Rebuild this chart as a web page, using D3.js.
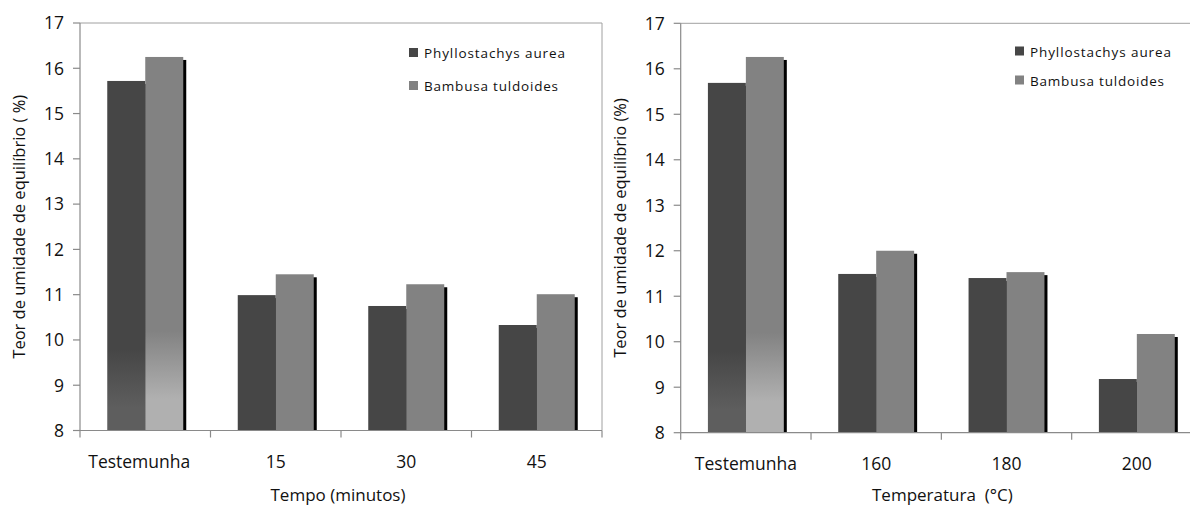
<!DOCTYPE html>
<html>
<head>
<meta charset="utf-8">
<script src="https://cdn.jsdelivr.net/npm/d3@7"></script>
<style>
  html, body { margin: 0; padding: 0; background: #fff; }
  svg { display: block; }
  text { font-family: "Open Sans", sans-serif; fill: #111; white-space: pre; }
</style>
</head>
<body>
<svg id="chart" width="1190" height="506"></svg>
<script>
// ---- data ----
const seriesNames = ["Phyllostachys aurea", "Bambusa tuldoides"];
const yTicks = [8, 9, 10, 11, 12, 13, 14, 15, 16, 17];

const categoriesTempo = ["Testemunha", "15", "30", "45"];
const phylloTempo = [15.72, 10.99, 10.75, 10.33];
const bambusaTempo = [16.25, 11.45, 11.23, 11.01];

const categoriesTemp = ["Testemunha", "160", "180", "200"];
const phylloTemp = [15.69, 11.49, 11.40, 9.18];
const bambusaTemp = [16.26, 12.00, 11.53, 10.17];

const xTitleTempo = "Tempo (minutos)";
const xTitleTemp = "Temperatura  (°C)";
const yTitleTempo = "Teor de umidade de equilíbrio ( %)";
const yTitleTemp = "Teor de umidade de equilíbrio (%)";

// ---- styles ----
const colors = ["#464646", "#828282"];
const gradColors = [["#464646", "#5e5e5e"], ["#828282", "#b0b0b0"]];
const axisColor = "#8a8a8a";

const svg = d3.select("#chart");
const defs = svg.append("defs");

function drawPanel(cfg) {
  const g = svg.append("g");
  const x = d3.scaleBand().domain(cfg.categories).range([cfg.left, cfg.right])
    .paddingInner(0.4176).paddingOuter(0.2088);
  const xs = d3.scaleBand().domain([0, 1]).range([0, x.bandwidth()]);
  const y = d3.scaleLinear().domain([8, 17]).range([cfg.bottom, cfg.top]);
  const step = x.step();
  const catStart = c => cfg.left + cfg.categories.indexOf(c) * step;

  // gradients (control bars)
  [0, 1].forEach(s => {
    const lg = defs.append("linearGradient")
      .attr("id", cfg.id + "grad" + s)
      .attr("gradientUnits", "userSpaceOnUse")
      .attr("x1", 0).attr("x2", 0)
      .attr("y1", y(s === 0 ? 9.8 : 10.2)).attr("y2", y(s === 0 ? 8.5 : 8.7));
    lg.append("stop").attr("offset", 0).attr("stop-color", gradColors[s][0]);
    lg.append("stop").attr("offset", 1).attr("stop-color", gradColors[s][1]);
  });

  // plot area border (top/right)
  g.append("path")
    .attr("d", `M${cfg.left},${cfg.top}H${cfg.right}V${cfg.bottom}`)
    .attr("fill", "none").attr("stroke", "#a0a0a0").attr("stroke-width", 1);

  const rows = [];
  cfg.categories.forEach((c, i) => {
    rows.push({ c, i, s: 0, v: cfg.s0[i] });
    rows.push({ c, i, s: 1, v: cfg.s1[i] });
  });

  // shadows
  g.selectAll("rect.shadow").data(rows).join("rect")
    .attr("class", "shadow")
    .attr("x", d => x(d.c) + xs(d.s) + 3)
    .attr("y", d => y(d.v) + 3)
    .attr("width", xs.bandwidth())
    .attr("height", d => y(8) - y(d.v) - 3)
    .attr("fill", "#000");

  // bars
  g.selectAll("rect.bar").data(rows).join("rect")
    .attr("class", "bar")
    .attr("x", d => x(d.c) + xs(d.s))
    .attr("y", d => y(d.v))
    .attr("width", xs.bandwidth())
    .attr("height", d => y(8) - y(d.v))
    .attr("fill", d => d.i === 0 ? `url(#${cfg.id}grad${d.s})` : colors[d.s]);

  // y axis
  g.append("line").attr("x1", cfg.left).attr("x2", cfg.left)
    .attr("y1", cfg.top).attr("y2", cfg.bottom)
    .attr("stroke", axisColor).attr("stroke-width", 1.2);
  g.selectAll("line.yt").data(yTicks).join("line")
    .attr("class", "yt")
    .attr("x1", cfg.left - 7).attr("x2", cfg.left)
    .attr("y1", d => y(d)).attr("y2", d => y(d))
    .attr("stroke", axisColor).attr("stroke-width", 1.2);
  g.selectAll("text.yl").data(yTicks).join("text")
    .attr("class", "yl")
    .attr("x", cfg.left - 16).attr("y", d => y(d))
    .attr("dy", "0.36em").attr("text-anchor", "end")
    .attr("font-size", 17.5)
    .text(d => d);

  // x axis
  g.append("line").attr("x1", cfg.left).attr("x2", cfg.right)
    .attr("y1", cfg.bottom).attr("y2", cfg.bottom)
    .attr("stroke", axisColor).attr("stroke-width", 1.2);
  const bounds = cfg.categories.map(catStart).concat([cfg.right]);
  g.selectAll("line.xt").data(bounds).join("line")
    .attr("class", "xt")
    .attr("x1", d => d).attr("x2", d => d)
    .attr("y1", cfg.bottom).attr("y2", cfg.bottom + 7)
    .attr("stroke", axisColor).attr("stroke-width", 1.2);
  g.selectAll("text.xl").data(cfg.categories).join("text")
    .attr("class", "xl")
    .attr("x", (d, i) => x(d) + x.bandwidth() / 2 + (i === 0 ? cfg.firstDx : 0))
    .attr("y", cfg.bottom + 37.5)
    .attr("text-anchor", "middle")
    .attr("font-size", 17.5)
    .text(d => d);

  // axis titles
  g.append("text")
    .attr("x", (cfg.left + cfg.left + 4 * step) / 2 + cfg.titleDx)
    .attr("y", 500.5)
    .attr("text-anchor", "middle").attr("font-size", 17)
    .text(cfg.xTitle);
  g.append("text")
    .attr("transform", `translate(${cfg.yTitleX},${(cfg.top + cfg.bottom) / 2}) rotate(-90)`)
    .attr("text-anchor", "middle").attr("font-size", 16.5)
    .text(cfg.yTitle);

  // legend
  const lg = g.append("g");
  seriesNames.forEach((n, k) => {
    const yy = cfg.legY + k * cfg.legGap;
    lg.append("rect").attr("x", cfg.legX).attr("y", yy)
      .attr("width", 9).attr("height", 9).attr("fill", colors[k]);
    lg.append("text").attr("x", cfg.legX + 15).attr("y", yy + 10)
      .attr("font-size", 13.5)
      .attr("textLength", k === 0 ? 141 : 134)
      .attr("lengthAdjust", "spacing")
      .text(n);
  });
}

drawPanel({
  id: "a", categories: categoriesTempo, s0: phylloTempo, s1: bambusaTempo,
  left: 80, right: 602, top: 23, bottom: 430.5,
  xTitle: xTitleTempo, yTitle: yTitleTempo, yTitleX: 25,
  legX: 409, legY: 48, legGap: 33, firstDx: -6, titleDx: -3
});
drawPanel({
  id: "b", categories: categoriesTemp, s0: phylloTemp, s1: bambusaTemp,
  left: 680.7, right: 1202, top: 23.3, bottom: 432.7,
  xTitle: xTitleTemp, yTitle: yTitleTemp, yTitleX: 626,
  legX: 1015, legY: 46.5, legGap: 29, firstDx: 0, titleDx: 1
});
</script>
</body>
</html>
